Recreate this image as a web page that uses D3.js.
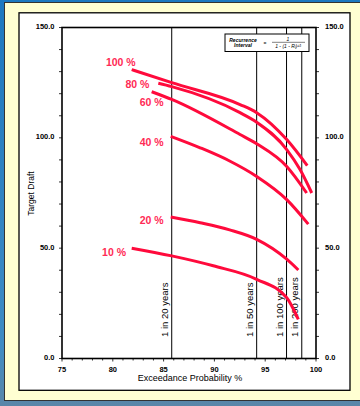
<!DOCTYPE html>
<html>
<head>
<meta charset="utf-8">
<script src="https://cdn.jsdelivr.net/npm/d3@7"></script>
<style>
	html, body { margin: 0; padding: 0; background: #2f86c4; }
	svg { display: block; font-family: "Liberation Sans", Arial, sans-serif; }
</style>
</head>
<body>
<div id="chart"></div>
<script>
	//
	// Data
	//
	let xTicks = [75, 80, 85, 90, 95, 100];
	let yTicks = [0, 50, 100, 150];
	let returnValues = [85.8, 94.16, 97.1, 98.6];
	let returnLabels = ['1 in 20 years', '1 in 50 years', '1 in 100 years', '1 in 200 years'];

	let seriesNames = ['100 %', '80 %', '60 %', '40 %', '20 %', '10 %'];
	let s100 = [[81.86, 130.9], [85.8, 125.0], [92.52, 115.1], [94.16, 111.4], [97.12, 99.2], [99.14, 87.4]];
	let s80 = [[84.48, 124.7], [85.8, 123.2], [92.52, 111.4], [94.16, 107.1], [97.12, 94.7], [98.43, 85.6], [99.58, 75.0]];
	let s60 = [[83.83, 120.9], [85.8, 117.4], [92.52, 101.5], [94.16, 97.3], [97.12, 87.0], [99.08, 75.0]];
	let s40 = [[85.7, 100.7], [88.6, 95.5], [91.5, 89.5], [94.16, 82.5], [97.12, 72.0], [99.24, 60.9]];
	let s20 = [[85.7, 64.1], [88.6, 61.5], [91.5, 58.3], [94.16, 54.0], [97.12, 45.0], [98.26, 40.1]];
	let s10 = [[81.86, 50.0], [85.8, 46.5], [89.89, 42.0], [94.16, 35.9], [97.12, 27.5], [98.26, 17.7]];
	let seriesData = [s100, s80, s60, s40, s20, s10];
	// label anchor (right end of text) in data units
	let labelPos = [[82.25, 132.5], [83.6, 122.5], [85.0, 114.5], [85.0, 96.5], [85.0, 61.0], [81.3, 46.5]];

	let RED = '#ff0a3c';

	var svg = d3.select("#chart").append("svg")
		.attr("width", 360)
		.attr("height", 406);

	// background
	var defs = svg.append("defs");
	var grad = defs.append("linearGradient").attr("id", "bg").attr("x1", 0).attr("y1", 0).attr("x2", 0).attr("y2", 1);
	grad.append("stop").attr("offset", "0%").attr("stop-color", "#1d78c0");
	grad.append("stop").attr("offset", "85%").attr("stop-color", "#3f8cc4");
	grad.append("stop").attr("offset", "100%").attr("stop-color", "#5a86a8");
	svg.append("rect").attr("width", 360).attr("height", 406).attr("fill", "url(#bg)");

	svg.append("rect")
		.attr("x", 4.5).attr("y", 2.5).attr("width", 360).attr("height", 398)
		.attr("fill", "#ffffd2").attr("stroke", "#333").attr("stroke-width", 1);

	svg.append("rect")
		.attr("x", 19).attr("y", 12.8).attr("width", 331).attr("height", 377.5)
		.attr("fill", "#fff").attr("stroke", "#000").attr("stroke-width", 1.3);

	//
	// Scales
	//
	var x = d3.scaleLinear().domain([75, 100]).range([62, 316]);
	var y = d3.scaleLinear().domain([0, 150]).range([358.5, 27.5]);

	var g = svg.append("g");

	// minor ticks
	g.selectAll(".xminor")
		.data(d3.range(75, 101, 1))
		.enter().append("line")
		.attr("x1", d => x(d)).attr("x2", d => x(d))
		.attr("y1", y(0)).attr("y2", d => y(0) + (d % 5 == 0 ? 3 : 2))
		.attr("stroke", "#000").attr("stroke-width", 0.8);

	g.selectAll(".ylminor")
		.data(d3.range(0, 151, 10))
		.enter().append("line")
		.attr("x1", x(75) - 3).attr("x2", x(75))
		.attr("y1", d => y(d)).attr("y2", d => y(d))
		.attr("stroke", "#000").attr("stroke-width", 0.8);

	g.selectAll(".yrminor")
		.data(d3.range(0, 151, 10))
		.enter().append("line")
		.attr("x1", x(100)).attr("x2", x(100) + 3)
		.attr("y1", d => y(d)).attr("y2", d => y(d))
		.attr("stroke", "#000").attr("stroke-width", 0.8);

	// tick labels
	g.selectAll(".xlab")
		.data(xTicks)
		.enter().append("text")
		.attr("x", d => x(d)).attr("y", 372)
		.attr("text-anchor", "middle")
		.style("font-size", "7.5px").style("font-weight", "bold")
		.text(d => d);

	g.selectAll(".yllab")
		.data(yTicks)
		.enter().append("text")
		.attr("x", 54.5).attr("y", d => y(d) + 1.5)
		.attr("text-anchor", "end")
		.style("font-size", "7.5px").style("font-weight", "bold")
		.text(d => d.toFixed(1));

	g.selectAll(".yrlab")
		.data(yTicks)
		.enter().append("text")
		.attr("x", 325).attr("y", d => y(d) + 1.5)
		.attr("text-anchor", "start")
		.style("font-size", "7.5px").style("font-weight", "bold")
		.text(d => d.toFixed(1));

	// axis titles
	g.append("text")
		.attr("x", 190).attr("y", 381)
		.attr("text-anchor", "middle")
		.style("font-size", "9px")
		.text("Exceedance Probability %");

	g.append("text")
		.attr("transform", "translate(34,193.5) rotate(-90)")
		.attr("text-anchor", "middle")
		.style("font-size", "8.5px")
		.text("Target Draft");

	// return period lines
	g.selectAll(".rline")
		.data(returnValues)
		.enter().append("line")
		.attr("x1", d => x(d)).attr("x2", d => x(d))
		.attr("y1", y(150)).attr("y2", y(0))
		.attr("stroke", "#000").attr("stroke-width", 1);

	g.selectAll(".rlab")
		.data(returnValues)
		.enter().append("text")
		.attr("transform", d => "translate(" + (x(d) - 3.5) + ",337) rotate(-90)")
		.style("font-size", "9.5px")
		.text((d, i) => returnLabels[i]);

	// frame
	g.append("rect")
		.attr("x", x(75)).attr("y", y(150))
		.attr("width", x(100) - x(75)).attr("height", y(0) - y(150))
		.attr("fill", "none").attr("stroke", "#000").attr("stroke-width", 1.6);

	// recurrence box
	var box = g.append("g");
	box.append("rect")
		.attr("x", 225).attr("y", 34).attr("width", 84).attr("height", 17.5)
		.attr("fill", "#fff").attr("stroke", "#000").attr("stroke-width", 1);
	box.append("text").attr("x", 243).attr("y", 41.5).attr("text-anchor", "middle")
		.style("font-size", "5px").style("font-style", "italic").style("font-weight", "bold")
		.text("Recurrence");
	box.append("text").attr("x", 243).attr("y", 47).attr("text-anchor", "middle")
		.style("font-size", "5px").style("font-style", "italic").style("font-weight", "bold")
		.text("Interval");
	box.append("text").attr("x", 265).attr("y", 45).attr("text-anchor", "middle")
		.style("font-size", "5px").text("=");
	box.append("text").attr("x", 288).attr("y", 40.5).attr("text-anchor", "middle")
		.style("font-size", "5px").style("font-style", "italic").text("1");
	box.append("line").attr("x1", 272).attr("x2", 305).attr("y1", 42.3).attr("y2", 42.3)
		.attr("stroke", "#000").attr("stroke-width", 0.5);
	box.append("text").attr("x", 288).attr("y", 47.5).attr("text-anchor", "middle")
		.style("font-size", "5px").style("font-style", "italic").text("1 - (1 - R\u1d62)\u00b9\u1d5f");

	//
	// Curves
	//
	var line = d3.line()
		.x(d => x(d[0]))
		.y(d => y(d[1]))
		.curve(d3.curveMonotoneX);

	g.selectAll(".curve")
		.data(seriesData)
		.enter().append("path")
		.attr("d", line)
		.attr("fill", "none")
		.attr("stroke", RED)
		.attr("stroke-width", 3)
		.attr("stroke-linecap", "butt");

	g.selectAll(".slab")
		.data(seriesNames)
		.enter().append("text")
		.attr("x", (d, i) => x(labelPos[i][0]))
		.attr("y", (d, i) => y(labelPos[i][1]))
		.attr("text-anchor", "end")
		.style("font-size", "10.5px").style("font-weight", "bold")
		.style("fill", "#ff2a55")
		.text(d => d);
</script>
</body>
</html>
